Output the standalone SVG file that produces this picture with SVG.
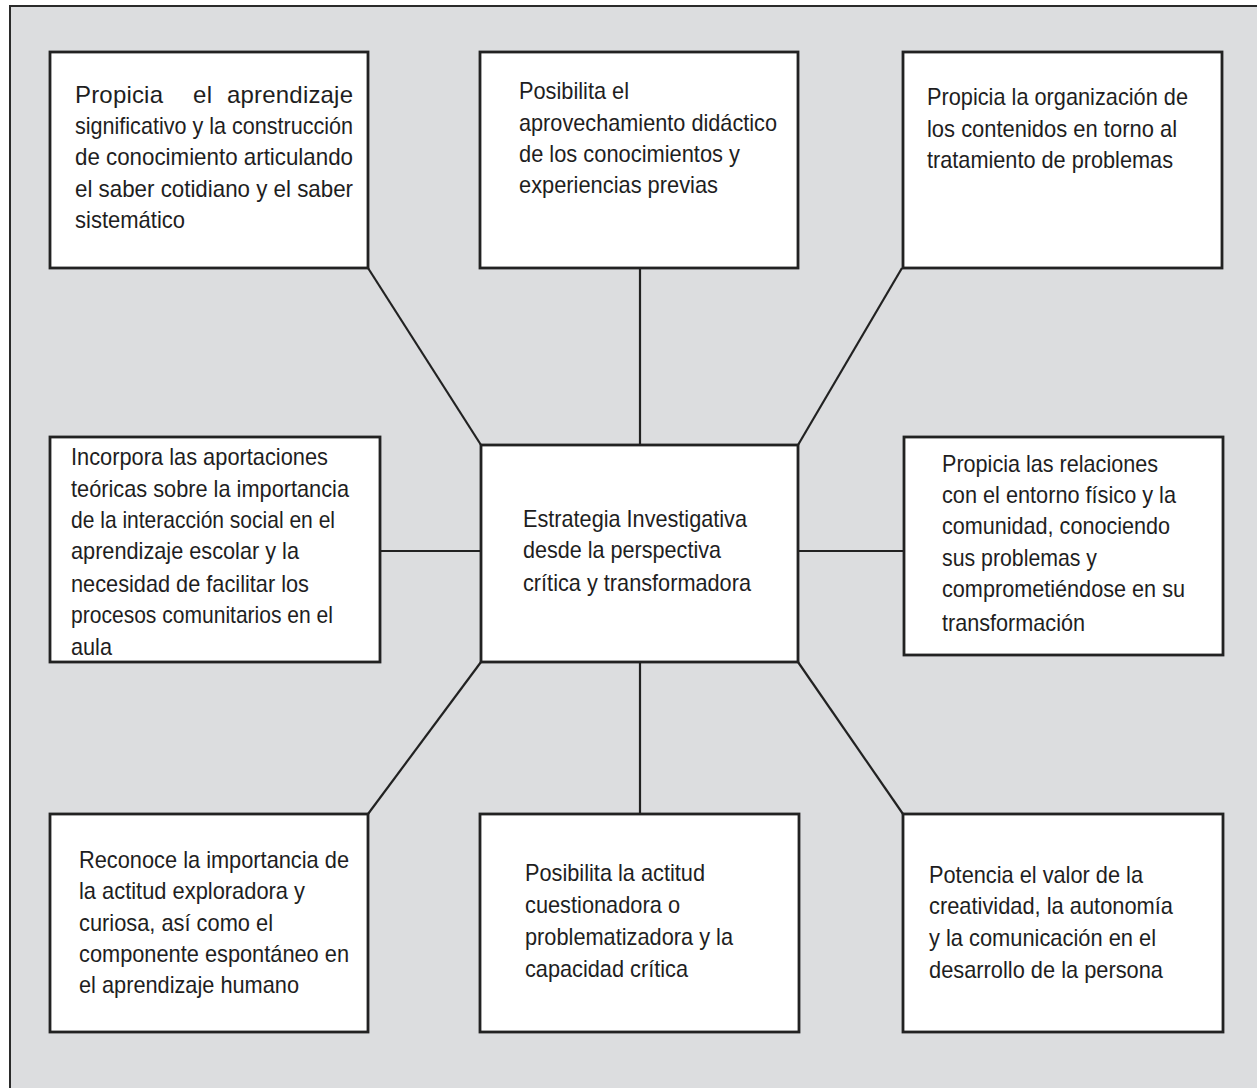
<svg xmlns="http://www.w3.org/2000/svg" width="1257" height="1088" viewBox="0 0 1257 1088">
<style>
.frame{fill:#dcdddf;stroke:#2a2a2a;stroke-width:2}
.box{fill:#ffffff;stroke:#222;stroke-width:2.8}
.conn{stroke:#222;stroke-width:2.2;fill:none}
text{font-family:"Liberation Sans",Arial,sans-serif;font-size:24px;fill:#1e1e1e}
</style>
<rect x="0" y="0" width="1257" height="1088" fill="#ffffff"/>
<rect class="frame" x="10" y="6" width="1262" height="1100"/>
<g id="connectors">
<line class="conn" x1="368" y1="268" x2="481" y2="445"/>
<line class="conn" x1="640" y1="268" x2="640" y2="445"/>
<line class="conn" x1="902" y1="268" x2="798" y2="445"/>
<line class="conn" x1="380" y1="551" x2="481" y2="551"/>
<line class="conn" x1="798" y1="551" x2="904" y2="551"/>
<line class="conn" x1="481" y1="662" x2="368" y2="814"/>
<line class="conn" x1="640" y1="662" x2="640" y2="814"/>
<line class="conn" x1="798" y1="662" x2="903" y2="814"/>
</g>
<g id="n-tl">
<rect class="box" x="50" y="52" width="318" height="216"/>
<text x="75" y="103" textLength="88" lengthAdjust="spacing">Propicia</text>
<text x="193" y="103" textLength="19" lengthAdjust="spacing">el</text>
<text x="227" y="103" textLength="126" lengthAdjust="spacing">aprendizaje</text>
<text x="75" y="134" textLength="278" lengthAdjust="spacingAndGlyphs">significativo y la construcción</text>
<text x="75" y="165" textLength="278" lengthAdjust="spacingAndGlyphs">de conocimiento articulando</text>
<text x="75" y="197" textLength="278" lengthAdjust="spacingAndGlyphs">el saber cotidiano y el saber</text>
<text x="75" y="228" textLength="110" lengthAdjust="spacingAndGlyphs">sistemático</text>
</g>
<g id="n-tc">
<rect class="box" x="480" y="52" width="318" height="216"/>
<text x="519" y="99" textLength="110" lengthAdjust="spacingAndGlyphs">Posibilita el</text>
<text x="519" y="131" textLength="258" lengthAdjust="spacingAndGlyphs">aprovechamiento didáctico</text>
<text x="519" y="162" textLength="221" lengthAdjust="spacingAndGlyphs">de los conocimientos y</text>
<text x="519" y="193" textLength="199" lengthAdjust="spacingAndGlyphs">experiencias previas</text>
</g>
<g id="n-tr">
<rect class="box" x="903" y="52" width="319" height="216"/>
<text x="927" y="105" textLength="261" lengthAdjust="spacingAndGlyphs">Propicia la organización de</text>
<text x="927" y="137" textLength="250" lengthAdjust="spacingAndGlyphs">los contenidos en torno al</text>
<text x="927" y="168" textLength="246" lengthAdjust="spacingAndGlyphs">tratamiento de problemas</text>
</g>
<g id="n-ml">
<rect class="box" x="50" y="437" width="330" height="225"/>
<text x="71" y="465" textLength="257" lengthAdjust="spacingAndGlyphs">Incorpora las aportaciones</text>
<text x="71" y="497" textLength="278" lengthAdjust="spacingAndGlyphs">teóricas sobre la importancia</text>
<text x="71" y="528" textLength="264" lengthAdjust="spacingAndGlyphs">de la interacción social en el</text>
<text x="71" y="559" textLength="228" lengthAdjust="spacingAndGlyphs">aprendizaje escolar y la</text>
<text x="71" y="592" textLength="238" lengthAdjust="spacingAndGlyphs">necesidad de facilitar los</text>
<text x="71" y="623" textLength="262" lengthAdjust="spacingAndGlyphs">procesos comunitarios en el</text>
<text x="71" y="655" textLength="41" lengthAdjust="spacingAndGlyphs">aula</text>
</g>
<g id="n-center">
<rect class="box" x="481" y="445" width="317" height="217"/>
<text x="523" y="527" textLength="224" lengthAdjust="spacingAndGlyphs">Estrategia Investigativa</text>
<text x="523" y="558" textLength="198" lengthAdjust="spacingAndGlyphs">desde la perspectiva</text>
<text x="523" y="591" textLength="228" lengthAdjust="spacingAndGlyphs">crítica y transformadora</text>
</g>
<g id="n-mr">
<rect class="box" x="904" y="437" width="319" height="218"/>
<text x="942" y="472" textLength="216" lengthAdjust="spacingAndGlyphs">Propicia las relaciones</text>
<text x="942" y="503" textLength="234" lengthAdjust="spacingAndGlyphs">con el entorno físico y la</text>
<text x="942" y="534" textLength="228" lengthAdjust="spacingAndGlyphs">comunidad, conociendo</text>
<text x="942" y="566" textLength="155" lengthAdjust="spacingAndGlyphs">sus problemas y</text>
<text x="942" y="597" textLength="243" lengthAdjust="spacingAndGlyphs">comprometiéndose en su</text>
<text x="942" y="631" textLength="143" lengthAdjust="spacingAndGlyphs">transformación</text>
</g>
<g id="n-bl">
<rect class="box" x="50" y="814" width="318" height="218"/>
<text x="79" y="868" textLength="270" lengthAdjust="spacingAndGlyphs">Reconoce la importancia de</text>
<text x="79" y="899" textLength="226" lengthAdjust="spacingAndGlyphs">la actitud exploradora y</text>
<text x="79" y="931" textLength="194" lengthAdjust="spacingAndGlyphs">curiosa, así como el</text>
<text x="79" y="962" textLength="270" lengthAdjust="spacingAndGlyphs">componente espontáneo en</text>
<text x="79" y="993" textLength="220" lengthAdjust="spacingAndGlyphs">el aprendizaje humano</text>
</g>
<g id="n-bc">
<rect class="box" x="480" y="814" width="319" height="218"/>
<text x="525" y="881" textLength="180" lengthAdjust="spacingAndGlyphs">Posibilita la actitud</text>
<text x="525" y="913" textLength="155" lengthAdjust="spacingAndGlyphs">cuestionadora o</text>
<text x="525" y="945" textLength="208" lengthAdjust="spacingAndGlyphs">problematizadora y la</text>
<text x="525" y="977" textLength="163" lengthAdjust="spacingAndGlyphs">capacidad crítica</text>
</g>
<g id="n-br">
<rect class="box" x="903" y="814" width="320" height="218"/>
<text x="929" y="883" textLength="214" lengthAdjust="spacingAndGlyphs">Potencia el valor de la</text>
<text x="929" y="914" textLength="244" lengthAdjust="spacingAndGlyphs">creatividad, la autonomía</text>
<text x="929" y="946" textLength="227" lengthAdjust="spacingAndGlyphs">y la comunicación en el</text>
<text x="929" y="978" textLength="234" lengthAdjust="spacingAndGlyphs">desarrollo de la persona</text>
</g>
</svg>
